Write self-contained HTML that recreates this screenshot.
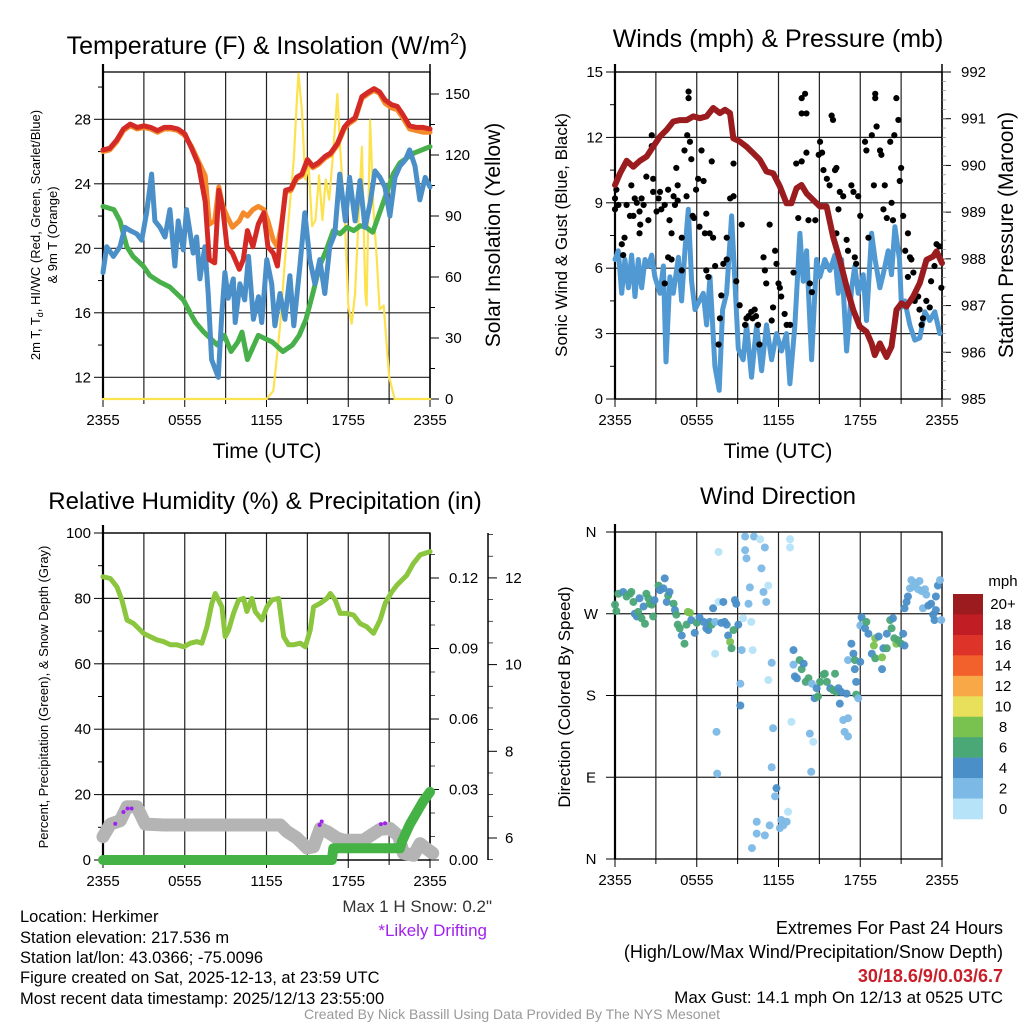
<!DOCTYPE html>
<html><head><meta charset="utf-8">
<style>
html,body{margin:0;padding:0;background:#fff;}
body{width:1024px;height:1024px;position:relative;overflow:hidden;font-family:"Liberation Sans",Arial,sans-serif;}
svg{position:absolute;left:0;top:0;}
</style></head>
<body>
<svg id="chart" width="1024" height="1024" viewBox="0 0 1024 1024" font-family="Liberation Sans, Arial, sans-serif"></svg>
<script>
// ---------- DATA ----------
const xTickLabels = ["2355","0555","1155","1755","2355"];
const tLeftTicks = [12,16,20,24,28];
const tRightTicks = [0,30,60,90,120,150];
const wLeftTicks = [0,3,6,9,12,15];
const wRightTicks = [985,986,987,988,989,990,991,992];
const rhTicks = [0,20,40,60,80,100];
const precipTicks = ["0.00","0.03","0.06","0.09","0.12"];
const snowTicks = [6,8,10,12];
const dirTickLabels = ["N","E","S","W","N"];
const cbarLabels = ["20+","18","16","14","12","10","8","6","4","2","0"];

const redH = [0,0.5,1,1.5,2,2.5,3,3.5,4,4.5,5,5.5,6,6.5,7,7.5,7.8,8.2,8.5,8.8,9.1,9.5,10,10.3,10.6,11,11.4,11.8,12.1,12.5,12.8,13.1,13.4,13.8,14.2,14.6,15,15.4,15.8,16.3,16.7,17.2,17.7,18,18.5,19,19.5,19.9,20.3,20.7,21.2,21.6,22,22.5,23,23.5,24];
const redT = [26.1,26.2,26.7,27.4,27.7,27.5,27.6,27.5,27.3,27.5,27.5,27.4,27.1,26.2,25.2,22.9,19.3,19.1,23.6,22.4,20.1,19.7,18.7,19.3,21.1,20.1,21.5,22.2,20.1,19.7,18.9,21.3,23.6,23.7,24.4,24.6,25.5,25.1,25.3,25.7,25.9,26.5,27.5,27.8,28.1,29.4,29.7,29.9,29.7,29.2,28.9,28.8,28.3,27.6,27.5,27.5,27.4];
const orangeT = [26.0,26.1,26.6,27.3,27.6,27.4,27.5,27.4,27.2,27.4,27.4,27.3,27.0,26.3,25.4,24.5,21.5,21.7,23.8,22.6,22.0,21.3,21.7,22.2,22.0,22.4,22.6,22.4,21.7,20.5,20.1,21.5,23.5,23.6,24.3,24.5,25.4,25.0,25.2,25.6,25.8,26.4,27.4,27.7,28.0,29.3,29.6,29.8,29.6,29.0,28.7,28.6,28.1,27.4,27.3,27.2,27.2];

const greenH = [0,0.8,1.25,1.75,2.2,2.95,3.45,4.2,4.9,5.4,5.9,6.4,6.8,7.4,7.9,8.4,8.9,9.4,9.9,10.2,10.6,11.4,11.9,12.4,13.2,13.9,14.4,14.9,15.4,15.9,16.4,16.9,17.4,17.9,18.4,18.9,19.3,19.8,20.3,20.8,21.3,21.8,22.3,22.8,24];
const greenT = [22.6,22.4,21.7,20.1,19.5,18.9,18.3,17.9,17.6,17.2,16.8,16.0,15.4,14.8,14.4,14.0,14.6,13.6,14.2,14.8,13.1,14.6,14.4,14.2,13.6,14.0,14.6,15.6,17.2,18.9,19.9,21.1,20.9,21.3,21.1,21.4,21.3,21.0,22.2,23.4,24.6,25.3,25.6,25.9,26.3];

const blueH = [0,0.27,0.76,1.25,1.61,2.0,2.47,2.84,3.2,3.57,3.81,4.18,4.55,4.91,5.28,5.52,5.89,6.13,6.62,6.87,7.11,7.48,7.72,7.97,8.46,8.7,8.95,9.19,9.56,9.7,10.05,10.4,10.68,11.04,11.41,11.65,12.02,12.38,12.62,12.99,13.35,13.72,14.0,14.45,14.81,15.18,15.55,15.91,16.28,16.64,17.01,17.37,17.79,18.1,18.5,18.86,19.23,19.6,19.96,20.33,20.69,21.06,21.43,21.79,22.2,22.5,22.9,23.25,23.65,24];
const blueT = [18.5,20.1,19.5,20.1,21.3,21.1,20.9,20.5,22.2,24.6,21.7,21.3,20.7,22.4,18.9,21.7,19.9,22.4,19.7,20.7,18.1,20.1,17.2,13.1,12.0,15.6,18.5,16.9,18.1,15.4,17.8,16.8,19.5,15.6,17.0,15.4,19.3,17.8,15.2,17.2,15.6,18.3,15.2,18.9,22.2,19.3,17.8,19.3,17.2,20.1,20.9,24.6,21.7,24.4,21.7,24.2,21.3,22.8,24.8,24.4,23.8,22.0,24.4,25.1,25.5,26.1,25.1,23.0,24.4,23.8];

const solarH = [0,12.0,12.5,13.0,13.35,13.75,14.0,14.25,14.35,14.6,14.85,15.1,15.35,15.6,15.85,16.1,16.35,16.6,16.85,17.2,17.4,17.75,18.0,18.25,18.5,18.75,19.0,19.25,19.35,19.6,19.85,20.1,20.3,20.6,21.0,21.4,24];
const solarW = [0,0,4,36,68,98,118,150,160,142,108,114,85,88,110,88,108,98,118,150,124,88,46,37,52,88,124,52,46,137,93,68,44,46,11,0,0];

const windH = [0,0.24,0.49,0.73,0.98,1.22,1.47,1.71,1.96,2.2,2.44,2.69,2.93,3.3,3.55,3.74,4.03,4.28,4.65,4.89,5.13,5.38,5.62,5.87,6.48,6.72,6.97,7.33,7.65,7.9,8.19,8.56,8.8,9.05,9.41,9.66,10.02,10.39,10.76,11.12,11.49,11.85,12.22,12.59,12.84,13.2,13.57,13.81,14.06,14.43,14.79,15.04,15.4,15.77,16.14,16.38,16.63,17.0,17.37,17.6,17.85,18.22,18.46,18.83,19.09,19.44,19.68,20.05,20.29,20.54,20.88,21.03,21.27,21.64,22.0,22.37,22.74,23.1,23.47,23.84];
const windV = [6.4,6.8,4.85,6.4,5.1,6.6,4.7,6.4,5.1,6.4,6.1,6.6,5.6,4.85,6.1,1.7,5.6,4.85,6.5,4.5,6.8,8.7,5.4,4.1,4.85,3.4,5.6,1.5,0.4,4.1,4.85,8.4,5.4,2.3,1.8,3.4,1.0,3.4,1.3,3.4,1.8,3.0,2.2,3.0,0.7,3.4,7.6,5.4,6.8,1.8,6.4,5.6,6.4,5.9,6.6,4.85,6.4,2.2,5.1,6.1,4.85,5.7,3.6,7.6,6.4,5.1,5.7,6.8,5.7,7.9,6.4,4.2,4.5,3.4,2.7,2.8,4.0,3.6,4.0,3.0];

const gustH = [0,0.0,0.25,0.1,0.5,0.6,0.7,0.85,1.1,1.2,1.35,1.45,1.6,1.8,1.95,1.8,1.85,2.1,2.3,2.45,2.7,2.7,2.8,2.8,3.05,3.2,3.3,3.4,3.65,3.65,3.9,3.9,4.0,4.15,4.15,4.3,4.4,4.5,4.6,4.6,4.9,4.9,5.1,5.25,5.3,5.4,5.4,5.5,5.6,5.7,5.8,5.95,6.1,6.2,6.35,6.5,6.6,6.7,6.7,6.85,6.95,7.1,7.2,7.35,7.6,7.7,7.8,7.95,8.2,8.2,8.45,8.7,8.7,8.9,9.15,9.3,9.55,9.65,9.8,10.0,10.1,10.25,10.35,10.5,10.6,10.9,11.0,11.1,11.35,11.5,11.6,11.75,11.85,12.0,12.1,12.2,12.45,12.6,12.85,13.1,13.3,13.45,13.7,13.7,13.7,13.95,14.05,14.05,14.2,14.3,14.45,14.7,14.95,15.05,15.2,15.3,15.55,15.75,15.9,16.0,16.15,16.25,16.25,16.4,16.5,16.75,17.0,17.1,17.35,17.5,17.6,17.7,17.85,18.0,18.35,18.45,18.6,18.85,19.0,19.1,19.1,19.2,19.45,19.55,19.7,19.8,19.95,20.2,20.3,20.4,20.5,20.65,20.8,20.9,21.0,21.15,21.3,21.5,21.65,21.75,21.5,21.9,22.0,22.25,22.35,22.5,22.6,22.85,23.1,23.2,23.45,23.6,23.8,23.95];
const gustV = [9.2,8.7,8.9,9.6,7.1,6.6,7.4,8.9,8.4,9.8,8.4,9.2,9.0,8.6,9.2,7.6,8.0,8.9,10.2,8.2,11.6,12.1,9.5,10.1,8.6,9.2,9.5,8.7,5.3,8.9,6.5,9.6,8.2,7.6,6.4,9.3,8.9,10.6,9.1,9.8,7.4,5.9,11.4,9.3,12.1,14.1,13.8,11.8,11.0,8.4,8.3,9.6,10.1,7.9,11.4,10.0,7.6,8.5,5.9,5.6,7.6,10.9,7.4,6.1,2.5,3.7,4.75,6.2,7.4,6.4,9.2,10.8,9.3,5.4,4.3,8.0,3.4,3.7,3.8,4.0,3.7,4.1,3.8,3.4,2.5,6.5,5.9,5.3,8.0,3.6,4.2,6.8,6.2,5.3,5.1,4.7,3.9,3.4,3.4,5.8,10.8,8.3,10.9,13.1,13.8,14.0,11.3,13.1,8.2,5.3,4.9,8.2,11.2,11.8,11.3,10.5,10.1,9.8,13.0,12.8,10.5,10.6,7.6,8.7,9.5,9.3,7.3,6.8,9.8,9.5,6.5,6.2,9.3,8.4,11.8,11.4,7.4,12.1,9.8,14.0,13.8,12.5,11.4,11.2,8.7,9.8,8.3,11.8,9.0,8.2,12.1,13.8,12.8,10.0,10.6,8.4,6.8,7.6,6.5,6.4,5.6,5.8,4.5,4.7,4.1,3.4,3.7,4.5,4.2,5.4,6.1,7.1,7.0,5.1];

const presH = [0,0.37,0.86,1.34,1.83,2.32,2.8,3.3,3.79,4.28,4.77,5.26,5.75,6.23,6.72,7.21,7.7,8.07,8.44,8.68,9.17,9.66,10.15,10.63,11.12,11.61,12.1,12.59,12.95,13.32,13.69,14.06,14.55,15.04,15.53,16.01,16.5,16.99,17.48,17.97,18.46,18.83,19.07,19.44,19.93,20.29,20.66,21.03,21.39,21.88,22.37,22.86,23.35,23.6,24];
const presMb = [989.58,989.83,990.1,989.97,990.1,990.19,990.4,990.62,990.76,990.94,990.97,990.97,991.05,991.01,991.05,991.23,991.12,991.19,991.12,990.58,990.51,990.4,990.26,990.12,989.87,989.83,989.55,989.19,989.19,989.51,989.58,989.4,989.26,989.12,989.12,988.47,987.98,987.41,986.91,986.55,986.44,986.19,985.94,986.19,985.9,986.12,986.91,987.05,986.98,987.19,987.48,987.98,988.05,988.16,987.91];

const rhH = [0,0.54,1.03,1.39,1.76,2.25,2.62,2.98,3.47,3.96,4.45,4.94,5.43,5.92,6.41,6.9,7.26,7.63,7.99,8.24,8.73,8.97,9.22,9.58,9.95,10.32,10.56,10.93,11.17,11.66,12.03,12.4,12.89,13.26,13.62,13.99,14.48,14.85,15.21,15.46,15.94,16.43,16.68,17.04,17.41,17.9,18.39,18.88,19.36,19.85,20.34,20.71,21.2,21.56,22.3,22.78,23.27,24];
const rhV = [86.6,86.1,83.5,79.5,73.4,72.3,70.8,69.3,68.3,67.3,66.8,65.8,65.8,65.2,66.3,66.8,66.3,71.3,78.5,81.5,77.4,68.3,70.3,75.4,79.5,80.0,76.0,80.0,76.0,73.4,77.4,79.5,80.0,68.3,65.8,65.8,66.3,65.2,70.3,77.4,78.5,80.0,81.5,79.5,75.4,75.4,74.9,72.3,71.3,69.3,73.4,78.5,82.0,84.0,87.1,90.7,93.3,94.3];

const snowH = [0,0.54,1.27,1.76,2.49,3.1,4.45,13.01,13.5,14.23,14.97,15.46,15.94,16.43,17.17,17.65,19.12,20.34,21.07,21.69,22.05,22.79,23.27,23.76,24.2];
const snowIn = [6.03,6.32,6.4,6.72,6.72,6.32,6.3,6.3,6.15,6.0,5.77,5.8,6.22,6.15,6.0,5.95,5.95,6.2,6.22,6.05,5.65,5.6,5.87,5.75,5.65];
const driftH = [0.9,1.5,1.8,2.1,15.9,16.05,20.4,20.7];
const driftIn = [6.33,6.6,6.68,6.68,6.3,6.38,6.32,6.34];

const precipH = [0,16.8,16.9,21.8,21.95,22.5,23.0,23.5,24];
const precipIn = [0,0,0.005,0.005,0.008,0.015,0.02,0.025,0.029];

const dirH = [0,0.1,0.25,0.6,0.85,1.1,1.2,1.35,1.45,1.6,1.7,1.8,1.95,2.1,2.2,2.3,2.45,2.55,2.7,2.8,2.9,3.2,3.3,3.55,3.65,3.8,3.9,4.0,4.3,4.4,4.5,4.6,4.75,4.9,5.1,5.25,5.35,5.5,5.6,5.85,6.0,6.2,6.5,6.7,6.85,6.95,7.1,7.2,7.35,7.35,7.6,7.6,7.45,7.5,7.8,7.95,8.05,8.2,8.3,8.45,8.55,8.7,8.8,8.9,9.05,9.2,9.2,9.3,9.4,9.55,9.55,9.65,9.8,9.9,10.0,10.1,10.05,10.2,10.4,10.4,10.65,10.75,10.9,11.0,11.0,11.1,11.25,11.25,11.35,11.5,11.5,11.6,11.75,11.85,12.1,12.2,12.35,12.6,12.7,12.85,12.85,12.95,13.1,13.1,13.2,13.35,13.55,13.7,13.85,14.0,14.2,14.3,14.45,14.55,14.4,14.65,14.8,14.9,15.05,15.3,15.4,15.55,15.8,16.0,16.15,16.25,16.4,16.5,16.6,16.75,16.85,17.0,17.1,17.1,17.1,17.35,17.5,17.6,17.6,17.7,17.7,17.85,18.0,18.1,18.0,18.35,18.45,18.6,18.85,19.0,19.1,19.1,19.35,19.6,19.6,19.7,19.95,19.95,20.2,20.3,20.4,20.5,20.65,20.75,21.0,21.15,21.25,21.25,21.4,21.5,21.65,21.75,21.9,22.1,22.25,22.35,22.5,22.6,22.75,22.85,23.0,23.2,23.35,23.45,23.55,23.55,23.7,23.85,23.95];
const dirDeg = [280,273,292,294,289,292,294,283,270,267,272,287,265,278,259,292,287,281,280,267,285,301,296,298,309,283,290,294,281,274,269,258,254,246,237,258,272,271,263,249,260,266,261,254,252,261,258,276,226,261,338,283,140,94,260,283,261,258,246,239,232,252,285,281,258,193,169,230,265,355,340,331,281,299,261,230,12,355,41,28,352,320,294,343,26,283,301,197,37,216,101,144,69,78,34,43,37,41,52,352,343,151,230,214,201,199,219,209,215,195,199,138,193,129,96,177,188,179,195,203,204,195,188,186,204,184,188,171,184,153,140,182,135,155,219,237,226,219,209,195,181,177,217,266,257,254,261,248,226,235,243,221,245,222,209,232,232,248,263,254,265,243,237,241,237,248,235,276,283,289,298,307,300,304,297,306,295,276,297,291,279,281,269,263,289,274,301,307,263];
const dirSpd = [7,7,7,5,7,7,7,7,5,5,7,5,7,5,7,7,7,7,7,7,5,7,5,5,5,5,7,5,7,5,7,7,7,5,7,7,9,9,5,5,7,5,5,5,5,5,7,5,1,3,1,1,3,3,5,5,5,5,5,9,7,7,5,5,5,3,5,3,1,3,3,3,3,3,1,1,3,3,3,3,1,3,3,3,3,3,1,1,3,3,3,3,3,5,3,3,3,3,1,1,1,1,5,3,5,5,7,7,5,7,7,3,3,1,3,5,5,7,7,7,7,7,5,7,7,7,5,5,5,3,3,5,3,3,3,5,5,7,5,5,7,3,5,5,3,5,7,5,5,9,9,7,5,9,5,5,7,5,7,7,5,7,9,7,7,5,5,5,5,5,3,3,3,3,3,3,3,3,3,3,5,5,5,5,5,5,5,3,3];
const speedColors = ["#b6e3f7","#7cb9e6","#4a8fc8","#4aa776","#7ac24f","#e8e05a","#f8a846","#f2612b","#de3328","#c01d25","#9b1b1e"];

// ---------- RENDER ----------
const svg = document.getElementById('chart');
const NS = 'http://www.w3.org/2000/svg';
function mk(tag, attrs, parent){ const e=document.createElementNS(NS,tag); for(const k in attrs) e.setAttribute(k,attrs[k]); (parent||svg).appendChild(e); return e; }
function txt(x,y,s,size,anchor,extra,parent){ const t=mk('text',Object.assign({x:x,y:y,'font-size':size,'text-anchor':anchor||'middle',fill:'#000'},extra||{}),parent); t.textContent=s; return t; }
function lin(d0,d1,r0,r1){ return v => r0+(v-d0)*(r1-r0)/(d1-d0); }
function path(xs,ys,fx,fy){ let d=''; for(let i=0;i<xs.length&&i<ys.length;i++){ d+=(i?'L':'M')+fx(xs[i]).toFixed(1)+','+fy(ys[i]).toFixed(1);} return d; }

function frame(name,x0,y0,x1,y1,hGrid){
  const g=mk('g',{});
  
  
  const fx=lin(0,24,x0,x1);
  for(let h=3;h<24;h+=3){ const l=mk('line',{x1:fx(h),y1:y0,x2:fx(h),y2:y1,stroke:'#222','stroke-width':1.2},g);   }
  hGrid.forEach(y=>{ const l=mk('line',{x1:x0,y1:y,x2:x1,y2:y,stroke:'#222','stroke-width':1.2},g);   });
  mk('rect',{x:x0,y:y0,width:x1-x0,height:y1-y0,fill:'none',stroke:'#000','stroke-width':1.3},g);
  mk('line',{x1:x0,y1:y0-8,x2:x0,y2:y1,stroke:'#000','stroke-width':2.2},g);
  for(let h=0;h<=24;h+=3){ mk('line',{x1:fx(h),y1:y1,x2:fx(h),y2:y1+(h%6?5:8),stroke:'#000','stroke-width':1},g); }
  xTickLabels.forEach((s,i)=>{ const t=txt(fx(i*6),y1+26,s,15,'middle',{},g);   });
  return fx;
}
function leftTicks(x0,vals,fy,labels,size){
  vals.forEach((v,i)=>{ mk('line',{x1:x0-9,y1:fy(v),x2:x0,y2:fy(v),stroke:'#000','stroke-width':1});
    const t=txt(x0-12,fy(v)+5,labels?labels[i]:String(v),size||15,'end');   });
}
function rightTicks(x,vals,fy,labels,size,lx){
  vals.forEach((v,i)=>{ mk('line',{x1:x,y1:fy(v),x2:x+9,y2:fy(v),stroke:'#000','stroke-width':1});
    const t=txt(lx||x+14,fy(v)+5,labels?labels[i]:String(v),size||15,'start');   });
}
function series(name,d,color,w,op){
  const p=mk('path',{d:d,fill:'none',stroke:color,'stroke-width':w,'stroke-linejoin':'round','stroke-linecap':'round','stroke-opacity':op||1});
  
  
  return p;
}
function rot(x,y,s,size,name){ const t=txt(x,y,s,size,'middle',{transform:`rotate(-90 ${x} ${y})`});   return t; }

// Panel 1
(function(){
  const X0=103,X1=430,Y0=72,Y1=399;
  const fyT=lin(12,28,377.3,119.3), fyS=lin(0,150,399,94);
  const fx=frame('temperature-panel',X0,Y0,X1,Y1,tLeftTicks.map(fyT));
  leftTicks(X0,tLeftTicks,fyT);
  for(let v=14;v<=30;v+=4) mk('line',{x1:X0-5,y1:fyT(v),x2:X0,y2:fyT(v),stroke:'#000'});
  mk('line',{x1:X1,y1:Y0-8,x2:X1,y2:Y1,stroke:'#000','stroke-width':1.5});
  rightTicks(X1,tRightTicks,fyS,null,15,445);
  for(let v=15;v<=160;v+=30) mk('line',{x1:X1,y1:fyS(v),x2:X1+5,y2:fyS(v),stroke:'#000'});
  series('solar-insolation-line',path(solarH,solarW,fx,fyS),'#fde24f',2.2);
  series('dewpoint-line',path(greenH,greenT,fx,fyT),'#48b04a',5);
  series('9m-temperature-line',path(redH,orangeT,fx,fyT),'#f58a2a',5);
  series('wind-chill-line',path(blueH,blueT,fx,fyT),'#4a8fc8',5);
  series('2m-temperature-line',path(redH,redT,fx,fyT),'#d42a26',5);
  const t=mk('text',{x:267,y:54,'font-size':25,'text-anchor':'middle'}); t.innerHTML='Temperature (F) &amp; Insolation (W/m<tspan font-size="16" dy="-10">2</tspan><tspan dy="10">)</tspan>';
   
  const y1=rot(40,235,'',13,'temperature-y-axis-title'); y1.innerHTML='2m T, T<tspan font-size="9" dy="3">d</tspan><tspan dy="-3">, HI/WC (Red, Green, Scarlet/Blue)</tspan>';
  rot(57,235,'& 9m T (Orange)',13,'temperature-y-axis-title-2');
  rot(500,235,'Solar Insolation (Yellow)',21,'insolation-axis-title');
  const xt=txt(267,458,'Time (UTC)',21);  
})();

// Panel 2
(function(){
  const X0=615,X1=942,Y0=72,Y1=399;
  const fyW=lin(0,15,399,72), fyP=lin(985,992,399,72);
  const fx=frame('wind-panel',X0,Y0,X1,Y1,wLeftTicks.map(fyW));
  leftTicks(X0,wLeftTicks,fyW);
  for(let v=1.5;v<15;v+=3) mk('line',{x1:X0-5,y1:fyW(v),x2:X0,y2:fyW(v),stroke:'#000'});
  mk('line',{x1:X1,y1:Y0-8,x2:X1,y2:Y1,stroke:'#000','stroke-width':1.5});
  rightTicks(X1,wRightTicks,fyP,null,15,961);
  for(let v=985.2;v<992;v+=0.2) mk('line',{x1:X1,y1:fyP(v),x2:X1+4,y2:fyP(v),stroke:'#888','stroke-width':0.7});
  series('sonic-wind-line',path(windH,windV,fx,fyW),'#5199d2',5);
  const g=mk('g',{});  
  gustH.forEach((h,i)=>{ const c=mk('circle',{cx:fx(h),cy:fyW(gustV[i]),r:3.1,fill:'#000'},g);   });
  series('station-pressure-line',path(presH,presMb,fx,fyP),'#9a1c1f',6);
  const t=txt(778,47,'Winds (mph) & Pressure (mb)',25);  
  rot(567,235,'Sonic Wind & Gust (Blue, Black)',17,'wind-y-axis-title');
  rot(1013,235,'Station Pressure (Maroon)',21,'pressure-axis-title');
  const xt=txt(778,458,'Time (UTC)',21);  
})();

// Panel 3
(function(){
  const X0=103,X1=430,Y0=533,Y1=860;
  const fyR=lin(0,100,860,533), fyPr=lin(0,0.03,860,789.5), fySn=lin(6,8,838,751.3);
  const fx=frame('humidity-panel',X0,Y0,X1,Y1,rhTicks.map(fyR));
  leftTicks(X0,rhTicks,fyR,null,15);
  for(let v=10;v<100;v+=20) mk('line',{x1:X0-5,y1:fyR(v),x2:X0,y2:fyR(v),stroke:'#000'});
  mk('line',{x1:X1,y1:Y0,x2:X1,y2:Y1,stroke:'#000','stroke-width':1.5});
  rightTicks(X1,[0,0.03,0.06,0.09,0.12],fyPr,precipTicks,15,449);
  for(let v=0.01;v<0.135;v+=0.01){ if(Math.abs(v*100%3)>0.1) mk('line',{x1:X1,y1:fyPr(v),x2:X1+5,y2:fyPr(v),stroke:'#000','stroke-width':0.7}); }
  mk('line',{x1:488,y1:533,x2:488,y2:860,stroke:'#000','stroke-width':1.5});
  rightTicks(488,snowTicks,fySn,null,15,505);
  for(let v=5.5;v<13.4;v+=0.5){ if(v%2) mk('line',{x1:488,y1:fySn(v),x2:493,y2:fySn(v),stroke:'#000','stroke-width':0.7}); }
  series('snow-depth-line',path(snowH,snowIn,fx,fySn),'#b4b4b4',13);
  const g=mk('g',{});  
  driftH.forEach((h,i)=>{ const c=mk('circle',{cx:fx(h),cy:fySn(driftIn[i]),r:2,fill:'#a020f0'},g);   });
  series('relative-humidity-line',path(rhH,rhV,fx,fyR),'#8cc63f',5);
  series('precipitation-line',path(precipH,precipIn,fx,fyPr),'#44b244',10);
  const t=txt(265,509,'Relative Humidity (%) & Precipitation (in)',24);  
  rot(48,697,'Percent, Precipitation (Green), & Snow Depth (Gray)',13,'humidity-y-axis-title');
})();

// Panel 4
(function(){
  const X0=615,X1=942,Y0=532,Y1=859;
  const fyD=lin(0,360,859,532);
  const fx=frame('direction-panel',X0,Y0,X1,Y1,[90,180,270].map(fyD));
  [0,90,180,270,360].forEach((v,i)=>{ mk('line',{x1:X0-9,y1:fyD(v),x2:X0,y2:fyD(v),stroke:'#000'});
    const t=txt(591,fyD(v)+5,dirTickLabels[i],15,'middle');   });
  const g=mk('g',{});  
  dirH.forEach((h,i)=>{ const s=dirSpd[i]; const c=mk('circle',{cx:fx(h),cy:fyD(dirDeg[i]),r:4,fill:speedColors[Math.min(10,Math.floor(s/2))],'fill-opacity':0.95},g);
      });
  const t=txt(778,504,'Wind Direction',24);  
  rot(570,697,'Direction (Colored By Speed)',17,'direction-y-axis-title');
  const cb=mk('g',{});  
  const bh=(819-594)/11;
  for(let i=0;i<11;i++){ const r=mk('rect',{x:953,y:594+i*bh,width:30,height:bh+0.3,fill:speedColors[10-i]},cb);  
    const l=txt(1003,594+i*bh+bh/2+5,cbarLabels[i],15,'middle',{},cb);   }
  txt(1003,586,'mph',15,'middle',{},cb);
})();

// Footer text
[['Location: Herkimer',917],['Station elevation: 217.536 m',938],['Station lat/lon: 43.0366; -75.0096',958],['Figure created on Sat, 2025-12-13, at 23:59 UTC',978],['Most recent data timestamp: 2025/12/13 23:55:00',999]].forEach(a=>{
  const t=txt(20,a[1]+5,a[0],16.5,'start');   });
let t;
t=txt(492,912,'Max 1 H Snow: 0.2"',17,'end',{fill:'#333'});  
t=txt(487,936,'*Likely Drifting',17,'end',{fill:'#a020f0'});  
t=txt(1003,934,'Extremes For Past 24 Hours',18,'end');  
t=txt(1003,958,'(High/Low/Max Wind/Precipitation/Snow Depth)',18,'end');  
t=txt(1003,982,'30/18.6/9/0.03/6.7',18,'end',{fill:'#c8202a','font-weight':'bold'});  
t=txt(1003,1003,'Max Gust: 14.1 mph On 12/13 at 0525 UTC',17,'end');  
t=txt(512,1019,'Created By Nick Bassill Using Data Provided By The NYS Mesonet',14,'middle',{fill:'#999'});  
</script>
</body></html>
